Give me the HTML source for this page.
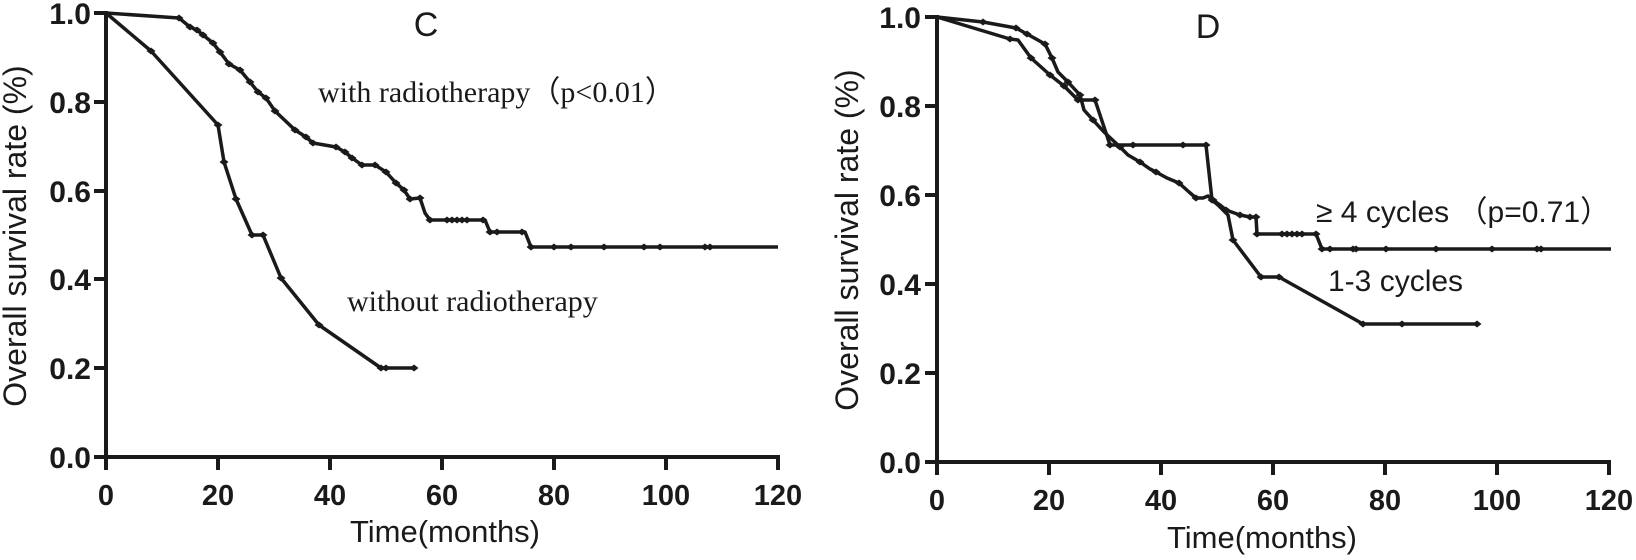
<!DOCTYPE html>
<html><head><meta charset="utf-8"><style>body{margin:0;background:#fff}svg{display:block}</style></head><body>
<svg width="1636" height="560" xmlns="http://www.w3.org/2000/svg" font-family="Liberation Sans, sans-serif">
<defs><g id="m"><path d="M-4.5,0L0,-3.5L4.5,0L0,3.5Z" fill="#1a1a1a"/></g></defs>
<g stroke="#1a1a1a" stroke-width="4" fill="none" stroke-linecap="square">
<path d="M106,13V457H778"/>
<path d="M96,13H106M96,102H106M96,191H106M96,279H106M96,368H106M96,457H106"/>
<path d="M106,457V468M218,457V468M330,457V468M442,457V468M554,457V468M666,457V468M778,457V468"/>
<path d="M937,17V462H1609"/>
<path d="M927,17H937M927,106H937M927,195H937M927,284H937M927,373H937M927,462H937"/>
<path d="M937,462V473M1049,462V473M1161,462V473M1273,462V473M1385,462V473M1497,462V473M1609,462V473"/>
</g>
<g stroke="#1a1a1a" stroke-width="3.5" fill="none" stroke-linejoin="round">
<polyline points="106,13 179,18 190,27 197,30 203,35 213,43 220,52 229,64 240,70 250,82 258,92 266,98 275,111 295,130 306,137 313,143 336,147 345,152 352,158 362,165 375,165 386,172 396,183 404,190 410,199 420,198 425,213 430,220 485,220 490,232 525,232 531,247 778,247"/>
<polyline points="106,13 151,51 218,125 224,162 236,199 252,235 263,235 281,278 319,325 381,368 386,368 414,368"/>
<polyline points="937,17 983,22 1016,28 1027,34 1045,44 1052,58 1058,72 1068,82 1080,95 1084,110 1093,120 1104,132 1120,147 1128,155 1140,162 1150,169 1156,172 1167,178 1179,183 1189,192 1196,198 1203,198 1208,196 1213,200 1220,205 1226,210 1240,215 1250,217 1256,217 1257,234 1316,234 1322,249 1611,249"/>
<polyline points="937,17 1010,39 1018,40 1031,58 1050,75 1064,86 1078,100 1095,100 1110,145 1206,145 1212,200 1218,205 1228,215 1233,240 1261,277 1279,277 1363,324 1477,324"/>
</g>
<g>
<use href="#m" x="179" y="18"/><use href="#m" x="190" y="27"/><use href="#m" x="197" y="30"/><use href="#m" x="203" y="35"/><use href="#m" x="213" y="43"/><use href="#m" x="220" y="52"/><use href="#m" x="229" y="64"/><use href="#m" x="240" y="70"/><use href="#m" x="250" y="82"/><use href="#m" x="258" y="92"/><use href="#m" x="266" y="98"/><use href="#m" x="275" y="111"/><use href="#m" x="295" y="130"/><use href="#m" x="306" y="137"/><use href="#m" x="313" y="143"/><use href="#m" x="336" y="147"/><use href="#m" x="345" y="152"/><use href="#m" x="352" y="158"/><use href="#m" x="362" y="165"/><use href="#m" x="375" y="165"/><use href="#m" x="386" y="172"/><use href="#m" x="396" y="183"/><use href="#m" x="404" y="190"/><use href="#m" x="410" y="199"/><use href="#m" x="420" y="198"/><use href="#m" x="430" y="220"/><use href="#m" x="447" y="220"/><use href="#m" x="452" y="220"/><use href="#m" x="457" y="220"/><use href="#m" x="462" y="220"/><use href="#m" x="467" y="220"/><use href="#m" x="483" y="220"/><use href="#m" x="490" y="232"/><use href="#m" x="497" y="232"/><use href="#m" x="522" y="232"/><use href="#m" x="531" y="247"/><use href="#m" x="554" y="247"/><use href="#m" x="571" y="247"/><use href="#m" x="604" y="247"/><use href="#m" x="644" y="247"/><use href="#m" x="660" y="247"/><use href="#m" x="705" y="247"/><use href="#m" x="710" y="247"/>
<use href="#m" x="151" y="51"/><use href="#m" x="218" y="125"/><use href="#m" x="224" y="162"/><use href="#m" x="236" y="199"/><use href="#m" x="252" y="235"/><use href="#m" x="263" y="235"/><use href="#m" x="281" y="278"/><use href="#m" x="319" y="325"/><use href="#m" x="381" y="368"/><use href="#m" x="386" y="368"/><use href="#m" x="414" y="368"/>
<use href="#m" x="983" y="22"/><use href="#m" x="1016" y="28"/><use href="#m" x="1027" y="34"/><use href="#m" x="1045" y="44"/><use href="#m" x="1052" y="58"/><use href="#m" x="1068" y="82"/><use href="#m" x="1080" y="95"/><use href="#m" x="1093" y="120"/><use href="#m" x="1120" y="147"/><use href="#m" x="1140" y="162"/><use href="#m" x="1156" y="172"/><use href="#m" x="1179" y="183"/><use href="#m" x="1196" y="198"/><use href="#m" x="1213" y="200"/><use href="#m" x="1226" y="210"/><use href="#m" x="1240" y="215"/><use href="#m" x="1250" y="217"/><use href="#m" x="1256" y="217"/><use href="#m" x="1257" y="234"/><use href="#m" x="1282" y="234"/><use href="#m" x="1287" y="234"/><use href="#m" x="1292" y="234"/><use href="#m" x="1297" y="234"/><use href="#m" x="1302" y="234"/><use href="#m" x="1316" y="234"/><use href="#m" x="1322" y="249"/><use href="#m" x="1330" y="249"/><use href="#m" x="1353" y="249"/><use href="#m" x="1356" y="249"/><use href="#m" x="1386" y="249"/><use href="#m" x="1436" y="249"/><use href="#m" x="1492" y="249"/><use href="#m" x="1537" y="249"/><use href="#m" x="1541" y="249"/>
<use href="#m" x="1010" y="39"/><use href="#m" x="1031" y="58"/><use href="#m" x="1050" y="75"/><use href="#m" x="1064" y="86"/><use href="#m" x="1078" y="100"/><use href="#m" x="1095" y="100"/><use href="#m" x="1110" y="145"/><use href="#m" x="1133" y="145"/><use href="#m" x="1183" y="145"/><use href="#m" x="1206" y="145"/><use href="#m" x="1212" y="200"/><use href="#m" x="1233" y="240"/><use href="#m" x="1261" y="277"/><use href="#m" x="1279" y="277"/><use href="#m" x="1363" y="324"/><use href="#m" x="1402" y="324"/><use href="#m" x="1477" y="324"/>
</g>
<g font-size="30" font-weight="bold" fill="#1a1a1a" text-anchor="end">
<text x="91" y="24">1.0</text><text x="91" y="113">0.8</text><text x="91" y="202">0.6</text><text x="91" y="290">0.4</text><text x="91" y="379">0.2</text><text x="91" y="468">0.0</text>
<text x="921" y="28">1.0</text><text x="921" y="117">0.8</text><text x="921" y="206">0.6</text><text x="921" y="295">0.4</text><text x="921" y="384">0.2</text><text x="921" y="473">0.0</text>
</g>
<g font-size="29" font-weight="bold" fill="#1a1a1a" text-anchor="middle">
<text x="106" y="505">0</text><text x="218" y="505">20</text><text x="330" y="505">40</text><text x="442" y="505">60</text><text x="554" y="505">80</text><text x="666" y="505">100</text><text x="778" y="505">120</text>
<text x="937" y="510">0</text><text x="1049" y="510">20</text><text x="1161" y="510">40</text><text x="1273" y="510">60</text><text x="1385" y="510">80</text><text x="1497" y="510">100</text><text x="1609" y="510">120</text>
</g>
<g font-size="31" fill="#1a1a1a" text-anchor="middle">
<text x="445" y="542">Time(months)</text>
<text x="1262" y="548">Time(months)</text>
<text transform="translate(26,236) rotate(-90)" font-size="32">Overall survival rate (%)</text>
<text transform="translate(858,240) rotate(-90)" font-size="32">Overall survival rate (%)</text>
<text x="426" y="36" font-size="34">C</text>
<text x="1208" y="38" font-size="34">D</text>
</g>
<g font-family="Liberation Serif, serif" font-size="30" fill="#1a1a1a">
<text x="318" y="102">with radiotherapy（p&lt;0.01）</text>
<text x="347" y="311">without radiotherapy</text>
</g>
<g font-size="30" fill="#1a1a1a">
<text x="1316" y="222">≥ 4 cycles （p=0.71）</text>
<text x="1328" y="291">1-3 cycles</text>
</g>
</svg>
</body></html>
